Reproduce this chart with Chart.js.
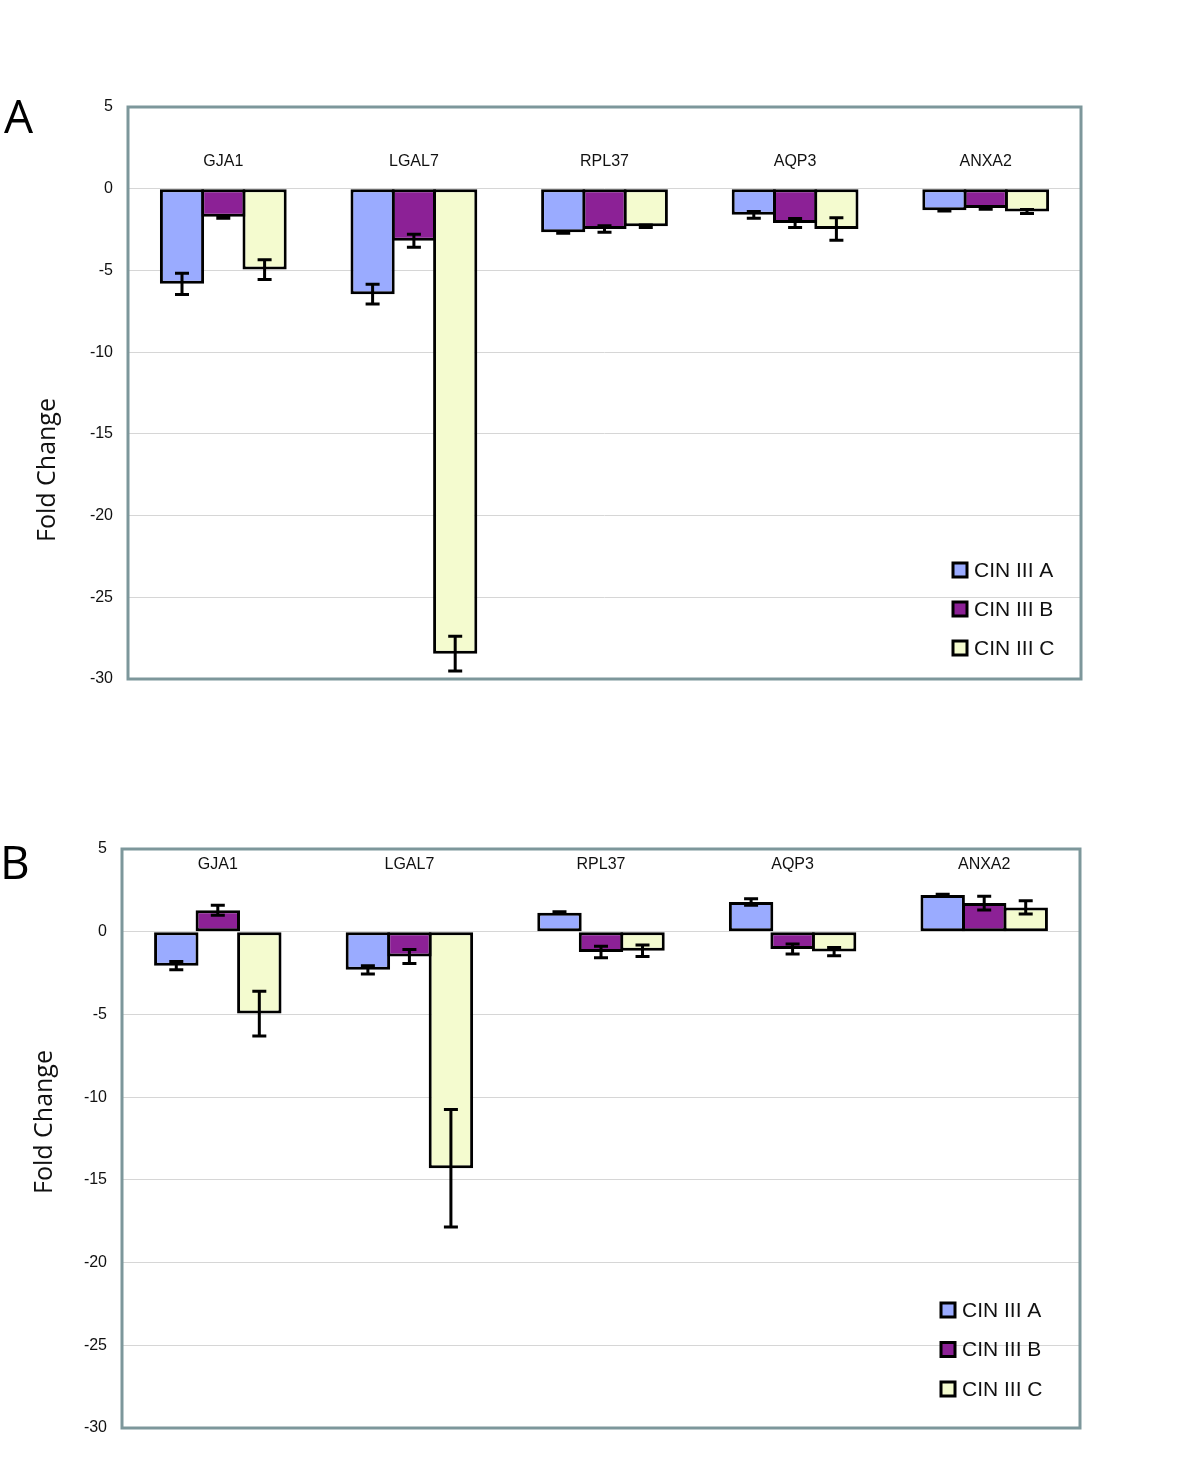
<!DOCTYPE html>
<html>
<head>
<meta charset="utf-8">
<script src="https://cdn.jsdelivr.net/npm/chart.js@4.4.0/dist/chart.umd.min.js"></script>
<style>
  html, body { margin: 0; padding: 0; background: #fff; }
  #wrap { position: relative; width: 1200px; height: 1467px; }
  canvas { position: absolute; left: 0; }
</style>
</head>
<body>
<div id="wrap">
  <canvas id="chartA" width="1200" height="733" style="top:0px"></canvas>
  <canvas id="chartB" width="1200" height="734" style="top:733px"></canvas>
</div>
<script>
// ---------- DATA ----------
const categories = ['GJA1', 'LGAL7', 'RPL37', 'AQP3', 'ANXA2'];
const seriesNames = ['CIN III A', 'CIN III B', 'CIN III C'];
const yTicks = [5, 0, -5, -10, -15, -20, -25, -30];

// Panel A
const A_cinA     = [-5.82, -6.45, -2.67, -1.6, -1.32];
const A_cinA_err = [0.65, 0.6, 0.05, 0.2, 0.05];
const A_cinB     = [-1.72, -3.18, -2.47, -2.1, -1.18];
const A_cinB_err = [0.08, 0.4, 0.2, 0.27, 0.08];
const A_cinC     = [-4.95, -28.45, -2.3, -2.47, -1.39];
const A_cinC_err = [0.6, 1.06, 0.08, 0.69, 0.12];

// Panel B
const B_cinA     = [-2.05, -2.3, 1.15, 1.8, 2.22];
const B_cinA_err = [0.25, 0.25, 0.05, 0.2, 0.05];
const B_cinB     = [1.3, -1.5, -1.23, -1.05, 1.73];
const B_cinB_err = [0.3, 0.42, 0.35, 0.3, 0.42];
const B_cinC     = [-4.95, -14.3, -1.15, -1.2, 1.47];
const B_cinC_err = [1.35, 3.55, 0.35, 0.25, 0.4];

const colors = ['#9aabff', '#8c2196', '#f4fbcf'];

// ---------- PLUGIN ----------
const decor = {
  id: 'decor',
  afterDatasetsDraw(chart, args, o) {
    const ctx = chart.ctx;
    const ca = chart.chartArea;
    const y = chart.scales.y;
    const x = chart.scales.x;
    // error bars
    ctx.save();
    ctx.strokeStyle = '#000';
    ctx.lineWidth = 3;
    chart.data.datasets.forEach((ds, di) => {
      const meta = chart.getDatasetMeta(di);
      meta.data.forEach((bar, i) => {
        const v = ds.data[i], e = ds.err[i];
        const y1 = y.getPixelForValue(v + e), y2 = y.getPixelForValue(v - e);
        ctx.beginPath();
        ctx.moveTo(bar.x, y1); ctx.lineTo(bar.x, y2);
        ctx.moveTo(bar.x - 7, y1); ctx.lineTo(bar.x + 7, y1);
        ctx.moveTo(bar.x - 7, y2); ctx.lineTo(bar.x + 7, y2);
        ctx.stroke();
      });
    });
    ctx.restore();
    // plot border
    ctx.save();
    ctx.strokeStyle = '#7d979b';
    ctx.lineWidth = 3;
    ctx.strokeRect(ca.left, ca.top, ca.right - ca.left, ca.bottom - ca.top);
    ctx.restore();
    // category labels
    ctx.save();
    ctx.fillStyle = '#111';
    ctx.font = '16px "Liberation Sans", Arial, sans-serif';
    ctx.textAlign = 'center';
    ctx.textBaseline = 'middle';
    chart.data.labels.forEach((lab, i) => {
      ctx.fillText(lab, x.getPixelForValue(i), ca.top + o.labelOffset);
    });
    ctx.restore();
    // legend
    ctx.save();
    chart.data.datasets.forEach((ds, di) => {
      const ly = o.legendY + di * o.legendGap;
      ctx.fillStyle = ds.backgroundColor;
      ctx.fillRect(o.legendX, ly - 7, 14, 14);
      ctx.strokeStyle = '#000';
      ctx.lineWidth = 3;
      ctx.strokeRect(o.legendX, ly - 7, 14, 14);
      ctx.fillStyle = '#111';
      ctx.font = '21px "Liberation Sans", Arial, sans-serif';
      ctx.textAlign = 'left';
      ctx.textBaseline = 'middle';
      ctx.fillText(ds.label, o.legendX + 21, ly + 1);
    });
    ctx.restore();
    // axis title
    ctx.save();
    ctx.translate(o.titleX, o.titleY);
    ctx.rotate(-Math.PI / 2);
    ctx.fillStyle = '#111';
    ctx.font = '25px "Open Sans", "Noto Sans", sans-serif';
    ctx.textAlign = 'center';
    ctx.textBaseline = 'middle';
    ctx.fillText('Fold Change', 0, 0);
    ctx.restore();
    // panel letter
    ctx.save();
    ctx.fillStyle = '#000';
    ctx.font = '46px "Open Sans", "Noto Sans", sans-serif';
    ctx.textAlign = 'left';
    ctx.textBaseline = 'middle';
    ctx.fillText(o.letter, o.letterX, o.letterY);
    ctx.restore();
  }
};

function makeChart(id, vals, errs, pad, yWidth, deco) {
  const datasets = seriesNames.map((n, i) => ({
    label: n,
    data: vals[i],
    err: errs[i],
    backgroundColor: colors[i],
    borderColor: '#000',
    borderWidth: 3,
    borderSkipped: false,
    categoryPercentage: 0.65,
    barPercentage: 1.07
  }));
  return new Chart(document.getElementById(id), {
    type: 'bar',
    data: { labels: categories, datasets },
    plugins: [decor],
    options: {
      responsive: false,
      animation: false,
      layout: { padding: pad },
      plugins: {
        legend: { display: false },
        tooltip: { enabled: false },
        decor: deco
      },
      scales: {
        x: { display: false, grid: { display: false } },
        y: {
          min: -30, max: 5,
          afterFit(s) { s.width = yWidth; },
          afterBuildTicks(s) { s.ticks = yTicks.map(v => ({ value: v })); },
          border: { display: false },
          grid: { color: '#d6d6d6', lineWidth: 1, drawTicks: false },
          ticks: {
            padding: 15,
            color: '#111',
            font: { family: '"Liberation Sans", Arial, sans-serif', size: 16 }
          }
        }
      }
    }
  });
}

makeChart('chartA',
  [A_cinA, A_cinB, A_cinC], [A_cinA_err, A_cinB_err, A_cinC_err],
  { left: 0, right: 119, top: 107, bottom: 54 }, 128,
  { labelOffset: 55, legendX: 953, legendY: 570, legendGap: 39,
    titleX: 48, titleY: 470, letter: 'A', letterX: 4, letterY: 120 });

makeChart('chartB',
  [B_cinA, B_cinB, B_cinC], [B_cinA_err, B_cinB_err, B_cinC_err],
  { left: 0, right: 120, top: 116, bottom: 39 }, 122,
  { labelOffset: 16, legendX: 941, legendY: 577, legendGap: 39.5,
    titleX: 45, titleY: 389, letter: 'B', letterX: 0, letterY: 133 });
</script>
</body>
</html>
